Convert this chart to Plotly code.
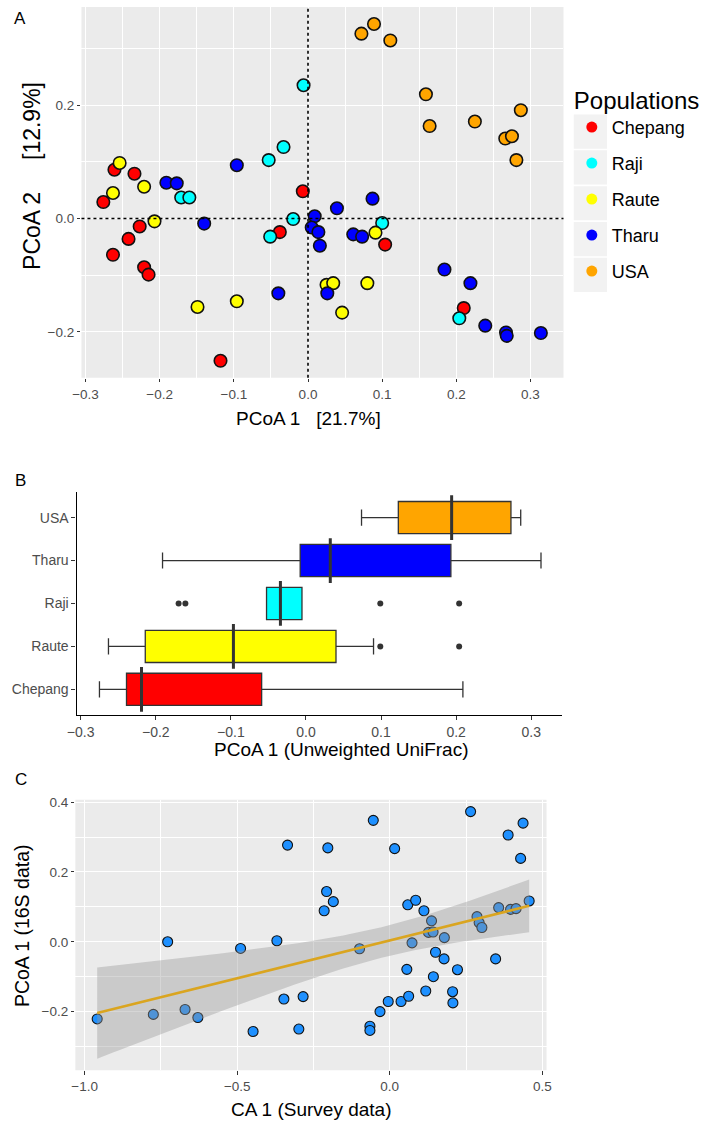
import numpy as np
import plotly.graph_objects as go

W, H = 706, 1124
FONT = "Liberation Sans, Arial, Helvetica, sans-serif"
TICK_COL = "#4D4D4D"


def fx(px):
    return px / W


def fy(py):
    return 1 - py / H


# ---------------- Panel A data (PCoA of unweighted UniFrac) ----------------
populations = ["Chepang", "Raji", "Raute", "Tharu", "USA"]
pop_colors = ["#FF0000", "#00FFFF", "#FFFF00", "#0000FF", "#FFA500"]

chepang_pc1 = [-0.276, -0.261, -0.234, -0.263, -0.242, -0.227, -0.221, -0.215,
               -0.007, -0.038, -0.118, 0.104, 0.210]
chepang_pc2 = [0.029, 0.086, 0.079, -0.064, -0.036, -0.014, -0.086, -0.099,
               0.048, -0.024, -0.251, -0.046, -0.158]
raji_pc1 = [-0.006, -0.033, -0.053, -0.171, -0.160, -0.020, -0.051, 0.100, 0.204]
raji_pc2 = [0.235, 0.126, 0.103, 0.037, 0.037, -0.001, -0.032, -0.008, -0.176]
raute_pc1 = [-0.254, -0.263, -0.221, -0.207, -0.149, -0.096, 0.025, 0.034,
             0.046, 0.080, 0.091]
raute_pc2 = [0.098, 0.045, 0.056, -0.005, -0.156, -0.146, -0.117, -0.114,
             -0.166, -0.114, -0.025]
tharu_pc1 = [-0.191, -0.177, -0.096, -0.140, -0.040, 0.009, 0.005, 0.014, 0.016,
             0.039, 0.061, 0.073, 0.087, 0.026, 0.184, 0.219, 0.239, 0.267,
             0.268, 0.314]
tharu_pc2 = [0.063, 0.062, 0.094, -0.009, -0.132, 0.004, -0.016, -0.024, -0.048,
             0.018, -0.028, -0.032, 0.035, -0.132, -0.090, -0.114, -0.189,
             -0.201, -0.207, -0.202]
usa_pc1 = [0.072, 0.089, 0.111, 0.159, 0.164, 0.225, 0.287, 0.266, 0.275, 0.281]
usa_pc2 = [0.326, 0.343, 0.314, 0.219, 0.163, 0.171, 0.191, 0.141, 0.145, 0.103]

pc1_by_pop = [chepang_pc1, raji_pc1, raute_pc1, tharu_pc1, usa_pc1]
pc2_by_pop = [chepang_pc2, raji_pc2, raute_pc2, tharu_pc2, usa_pc2]

# ---------------- Panel B data (box summary of PCoA 1) ----------------
box_groups = ["Chepang", "Raute", "Raji", "Tharu", "USA"]
box_colors = ["#FF0000", "#FFFF00", "#00FFFF", "#0000FF", "#FFA500"]
box_lower = [-0.275, -0.263, -0.0525, -0.191, 0.074]
box_q1 = [-0.239, -0.214, -0.0525, -0.0077, 0.123]
box_median = [-0.219, -0.0966, -0.034, 0.0324, 0.194]
box_q3 = [-0.059, 0.040, -0.0053, 0.193, 0.273]
box_upper = [0.209, 0.090, -0.0053, 0.313, 0.286]
outlier_group = ["Raji", "Raji", "Raji", "Raji", "Raute", "Raute"]
outlier_x = [-0.1696, -0.1606, 0.099, 0.204, 0.099, 0.204]

# ---------------- Panel C data (CA 1 survey vs PCoA 1 16S) ----------------
ca1_survey = [-0.959, -0.775, -0.728, -0.671, -0.629, -0.489, -0.448, -0.370,
              -0.347, -0.335, -0.298, -0.284, -0.215, -0.207, -0.203, -0.185,
              -0.099, -0.065, -0.065, -0.054, -0.032, -0.005, 0.016, 0.037,
              0.056, 0.059, 0.062, 0.073, 0.085, 0.112, 0.118, 0.127, 0.137,
              0.142, 0.143, 0.150, 0.178, 0.179, 0.206, 0.207, 0.222, 0.265,
              0.286, 0.293, 0.302, 0.347, 0.357, 0.388, 0.396, 0.414, 0.429,
              0.437, 0.457]
pcoa1_16s = [-0.221, -0.208, 0.000, -0.194, -0.217, -0.019, -0.257, 0.003,
             -0.164, 0.277, -0.250, -0.157, 0.089, 0.144, 0.269, 0.115,
             -0.020, -0.242, -0.254, 0.348, -0.200, -0.171, 0.267, -0.171,
             -0.079, 0.106, -0.156, -0.003, 0.119, 0.089, -0.141, 0.027, 0.060,
             0.028, -0.100, -0.030, -0.049, 0.012, -0.143, -0.175, -0.080,
             0.373, 0.072, 0.055, 0.041, -0.049, 0.098, 0.306, 0.093, 0.095,
             0.239, 0.340, 0.117]

fig = go.Figure()

# ---------------- Panel A ----------------
for name, col, xs_, ys_ in zip(populations, pop_colors, pc1_by_pop, pc2_by_pop):
    fig.add_trace(go.Scatter(
        x=xs_, y=ys_, mode="markers", name=name, showlegend=False,
        marker=dict(size=12.5, color=col, line=dict(color="#111111", width=1.6)),
        xaxis="x", yaxis="y"))
# legend entries (plain dots like the ggplot key)
for name, col in zip(populations, pop_colors):
    fig.add_trace(go.Scatter(
        x=[None], y=[None], mode="markers", name=name, legendgroup=name,
        marker=dict(size=11, color=col), xaxis="x", yaxis="y"))

# ---------------- Panel B ----------------
for g, col, lo, q1, med, q3, up in zip(box_groups, box_colors, box_lower, box_q1,
                                       box_median, box_q3, box_upper):
    fig.add_trace(go.Box(
        y=[g], q1=[q1], median=[med], q3=[q3], lowerfence=[lo], upperfence=[up],
        orientation="h", fillcolor=col, width=0.75, boxpoints=False,
        line=dict(color="#333333", width=1.3), showlegend=False,
        xaxis="x2", yaxis="y2"))
fig.add_trace(go.Scatter(
    x=box_median, y=box_groups, mode="markers", showlegend=False,
    marker=dict(symbol="line-ns", size=32, line=dict(color="#333333", width=3)),
    xaxis="x2", yaxis="y2"))
fig.add_trace(go.Scatter(
    x=outlier_x, y=outlier_group, mode="markers", showlegend=False,
    marker=dict(size=6, color="#333333"), xaxis="x2", yaxis="y2"))

# ---------------- Panel C ----------------
xc = np.array(ca1_survey)
yc = np.array(pcoa1_16s)
n = len(xc)
slope, intercept = np.polyfit(xc, yc, 1)
xs = np.linspace(xc.min(), xc.max(), 80)
yhat = intercept + slope * xs
resid = yc - (intercept + slope * xc)
s_err = np.sqrt(np.sum(resid ** 2) / (n - 2))
sxx = np.sum((xc - xc.mean()) ** 2)
t_crit = 2.0076  # 97.5% quantile of t with n-2 = 51 df
se = s_err * np.sqrt(1.0 / n + (xs - xc.mean()) ** 2 / sxx)
upper = yhat + t_crit * se
lower = yhat - t_crit * se

fig.add_trace(go.Scatter(
    x=ca1_survey, y=pcoa1_16s, mode="markers", showlegend=False,
    marker=dict(size=10, color="#1E90FF", line=dict(color="#111111", width=1.1)),
    xaxis="x3", yaxis="y3"))
fig.add_trace(go.Scatter(
    x=np.concatenate([xs, xs[::-1]]), y=np.concatenate([upper, lower[::-1]]),
    fill="toself", fillcolor="rgba(153,153,153,0.4)", line=dict(width=0),
    mode="lines", showlegend=False, hoverinfo="skip", xaxis="x3", yaxis="y3"))
fig.add_trace(go.Scatter(
    x=xs, y=yhat, mode="lines", showlegend=False,
    line=dict(color="#DAA520", width=2.6), xaxis="x3", yaxis="y3"))

# ---------------- Axes ----------------
grid_axis = dict(showgrid=True, gridcolor="white", gridwidth=1.2, zeroline=False,
                 ticks="outside", ticklen=3.5, tickwidth=1.1, tickcolor="#333333",
                 showline=False,
                 tickfont=dict(family=FONT, size=13.5, color=TICK_COL))

fig.update_layout(
    xaxis=dict(grid_axis, domain=[fx(73), fx(565.5)], range=[-0.3055, 0.3445],
               tick0=0, dtick=0.1, tickformat=".1f", anchor="y",
               minor=dict(showgrid=True, gridcolor="white", gridwidth=0.6,
                          tick0=0.05, dtick=0.1)),
    yaxis=dict(grid_axis, domain=[fy(374.5), fy(2)], range=[-0.281, 0.373],
               tickvals=[-0.2, 0.0, 0.2], ticktext=["\u22120.2", "0.0", "0.2"],
               anchor="x",
               minor=dict(showgrid=True, gridcolor="white", gridwidth=0.6,
                          tick0=0.1, dtick=0.2)),
    xaxis2=dict(domain=[fx(68), fx(564)], range=[-0.3055, 0.341], anchor="y2",
                tick0=0, dtick=0.1, tickformat=".1f", showgrid=False, zeroline=False,
                showline=True, linecolor="black", linewidth=1.2,
                ticks="outside", ticklen=4, tickwidth=1.1, tickcolor="#333333",
                tickfont=dict(family=FONT, size=14, color=TICK_COL)),
    yaxis2=dict(domain=[fy(713.3), fy(489)], range=[-0.6, 4.6], anchor="x2",
                type="category", categoryorder="array", categoryarray=box_groups,
                showgrid=False, zeroline=False,
                showline=True, linecolor="black", linewidth=1.2,
                ticks="outside", ticklen=4, tickwidth=1.1, tickcolor="#333333",
                tickfont=dict(family=FONT, size=14, color=TICK_COL)),
    xaxis3=dict(grid_axis, domain=[fx(66.8), fx(548.2)], range=[-1.0305, 0.514],
                tickvals=[-1.0, -0.5, 0.0, 0.5],
                ticktext=["\u22121.0", "\u22120.5", "0.0", "0.5"], anchor="y3",
                minor=dict(showgrid=True, gridcolor="white", gridwidth=0.6,
                           tick0=-0.75, dtick=0.5)),
    yaxis3=dict(grid_axis, domain=[fy(1070), fy(798.3)], range=[-0.368, 0.407],
                tickvals=[-0.2, 0.0, 0.2, 0.4],
                ticktext=["\u22120.2", "0.0", "0.2", "0.4"], anchor="x3",
                minor=dict(showgrid=True, gridcolor="white", gridwidth=0.6,
                           tick0=-0.3, dtick=0.2)),
)

# ---------------- Backgrounds, reference lines, legend keys ----------------
shapes = []
for xr, yr in [("x", "y"), ("x3", "y3")]:
    shapes.append(dict(type="rect", xref=f"{xr} domain", yref=f"{yr} domain",
                       x0=0, x1=1, y0=0, y1=1, fillcolor="#EBEBEB",
                       line=dict(width=0), layer="below"))
shapes.append(dict(type="line", xref="x", yref="y domain", x0=0, x1=0, y0=0, y1=1,
                   line=dict(color="black", width=1.6, dash="dot"), layer="above"))
shapes.append(dict(type="line", xref="x domain", yref="y", x0=0, x1=1, y0=0, y1=0,
                   line=dict(color="black", width=1.6, dash="dot"), layer="above"))
key_tops = [110.0, 146.0, 182.0, 218.0, 254.0]
for kt in key_tops:
    shapes.append(dict(type="rect", xref="paper", yref="paper",
                       x0=fx(576), x1=fx(610), y0=fy(kt + 34.3), y1=fy(kt),
                       fillcolor="#F2F2F2", line=dict(width=0), layer="below"))

annotations = [
    dict(text="A", x=fx(3), y=fy(14), xanchor="left", yanchor="middle",
         font=dict(size=17)),
    dict(text="B", x=fx(4), y=fy(478), xanchor="left", yanchor="middle",
         font=dict(size=17)),
    dict(text="C", x=fx(3.6), y=fy(777.5), xanchor="left", yanchor="middle",
         font=dict(size=17)),
    dict(text="PCoA 1\u00a0\u00a0\u00a0[21.7%]", x=fx(305), y=fy(415),
         xanchor="center", yanchor="middle", font=dict(size=19)),
    dict(text="PCoA 2\u00a0\u00a0\u00a0\u00a0\u00a0[12.9%]", x=fx(22.5), y=fy(171.7),
         textangle=-90, xanchor="center", yanchor="middle", font=dict(size=23)),
    dict(text="PCoA 1 (Unweighted UniFrac)", x=fx(339), y=fy(748),
         xanchor="center", yanchor="middle", font=dict(size=19)),
    dict(text="CA 1 (Survey data)", x=fx(308), y=fy(1109),
         xanchor="center", yanchor="middle", font=dict(size=19)),
    dict(text="PCoA 1 (16S data)", x=fx(12.5), y=fy(925), textangle=-90,
         xanchor="center", yanchor="middle", font=dict(size=19.5)),
]
for a in annotations:
    a.update(xref="paper", yref="paper", showarrow=False, borderpad=0)
    a["font"].update(family=FONT, color="black")

fig.update_layout(
    width=W, height=H, margin=dict(l=0, r=0, t=0, b=0),
    paper_bgcolor="white", plot_bgcolor="rgba(0,0,0,0)",
    font=dict(family=FONT, color="black"),
    shapes=shapes, annotations=annotations,
    legend=dict(x=fx(574), y=fy(73), xanchor="left", yanchor="top",
                title=dict(text="Populations", font=dict(family=FONT, size=24)),
                font=dict(family=FONT, size=18, color="black"),
                bgcolor="rgba(0,0,0,0)", traceorder="grouped",
                tracegroupgap=9.6, itemsizing="trace"),
)

fig.write_html("out.html", config={"displayModeBar": False},
               post_script="document.body.style.margin='0px';"
                           "document.body.style.overflow='hidden';")
